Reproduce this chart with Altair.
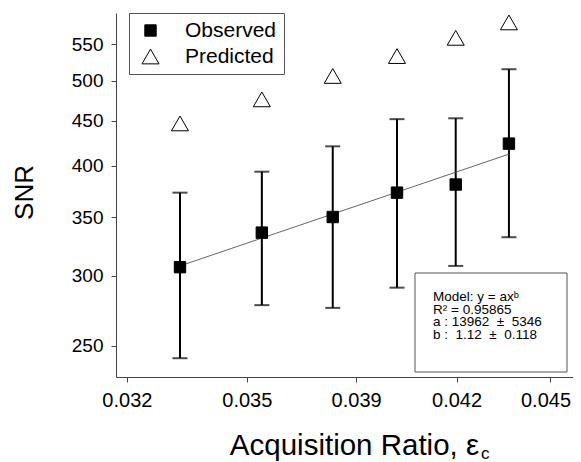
import altair as alt
import pandas as pd

# ---- data ----
x_vals = [0.03340, 0.03568, 0.03778, 0.03979, 0.04172, 0.04355]
snr_observed = [307, 336, 350, 373, 381, 424]
snr_upper = [373, 394, 421, 452, 453, 515]
snr_lower = [242, 278, 276, 291, 308, 332]
snr_predicted = [447, 476, 506, 533, 559, 582]

fit_x = [0.0334, 0.04355]
fit_y = [308, 412.5]

x_tick_values = [0.032, 0.03525, 0.0385, 0.04175, 0.045]
x_tick_labels = ["0.032", "0.035", "0.039", "0.042", "0.045"]
y_tick_values = [250, 300, 350, 400, 450, 500, 550]

series_names = ["Observed", "Predicted"]
NB = "\u00a0"
model_lines = ["Model: y = ax\u1d47", "R\u00b2 = 0.95865",
               f"a : 13962 {NB}\u00b1{NB} 5346", f"b :{NB} 1.12 {NB}\u00b1{NB} 0.118"]

FONT = "Liberation Sans"

pts = pd.DataFrame({
    "x": x_vals * 2,
    "snr": snr_observed + snr_predicted,
    "series": ["Observed"] * len(x_vals) + ["Predicted"] * len(x_vals),
})
err = pd.DataFrame({"x": x_vals, "lo": snr_lower, "hi": snr_upper})
fit = pd.DataFrame({"x": fit_x, "y": fit_y})

label_expr = " : ".join(
    f"abs(datum.value - {v}) < 1e-7 ? '{l}'" for v, l in zip(x_tick_values, x_tick_labels)
) + " : ''"

xscale = alt.Scale(type="log", domain=[0.03172, 0.04586], nice=False, zero=False)
yscale = alt.Scale(type="log", domain=[230.4, 596.5], nice=False, zero=False)

xaxis = alt.Axis(values=x_tick_values, labelExpr=label_expr, title="Acquisition Ratio, \u03b5",
                 titleFontSize=29.5, titleFont=FONT, titleFontWeight="normal",
                 titleX=238, titleY=77, titleBaseline="alphabetic", titleAlign="center",
                 labelFontSize=20, labelFont=FONT, labelPadding=8, tickSize=5,
                 labelOffset={"condition": {"test": f"datum.value > {x_tick_values[-2] + 0.002}",
                                            "value": -4}, "value": 0},
                 grid=False, labelColor="black", titleColor="black")
yaxis = alt.Axis(values=y_tick_values, format="d", title="SNR",
                 titleFontSize=26, titleFont=FONT, titleFontWeight="normal",
                 titleX=-84, titleY=179, titleAngle=270, titleBaseline="alphabetic",
                 titleAlign="center",
                 labelFontSize=19, labelFont=FONT, labelPadding=8, tickSize=5,
                 grid=False, labelColor="black", titleColor="black")

base_x = alt.X("x:Q", scale=xscale, axis=xaxis)

rules = alt.Chart(err).mark_rule(color="black", strokeWidth=2).encode(
    x=base_x,
    y=alt.Y("lo:Q", scale=yscale, axis=yaxis),
    y2="hi:Q",
)
cap_lo = alt.Chart(err).mark_tick(color="black", orient="horizontal", size=15, thickness=2).encode(
    x="x:Q", y="lo:Q")
cap_hi = alt.Chart(err).mark_tick(color="black", orient="horizontal", size=15, thickness=2).encode(
    x="x:Q", y="hi:Q")

fit_line = alt.Chart(fit).mark_line(color="#555555", strokeWidth=0.9).encode(
    x="x:Q", y="y:Q")

points = alt.Chart(pts).mark_point(strokeWidth=1, opacity=1, filled=False).encode(
    x="x:Q",
    y="snr:Q",
    shape=alt.Shape("series:N", scale=alt.Scale(domain=series_names, range=["square", "triangle-up"]),
                    legend=alt.Legend(title=None)),
    fill=alt.Fill("series:N", scale=alt.Scale(domain=series_names, range=["black", "white"]),
                  legend=alt.Legend(title=None)),
    stroke=alt.Stroke("series:N", scale=alt.Scale(domain=series_names, range=["black", "black"]),
                      legend=alt.Legend(title=None)),
    size=alt.Size("series:N", scale=alt.Scale(domain=series_names, range=[130, 290]),
                  legend=alt.Legend(title=None)),
)

box = alt.Chart(pd.DataFrame({"k": [0]})).mark_rect(fill="white", stroke="#555555", strokeWidth=1).encode(
    x=alt.value(299), x2=alt.value(451), y=alt.value(260), y2=alt.value(359))
box_text = alt.Chart(pd.DataFrame({"k": [0]})).mark_text(
    text=model_lines, align="left", baseline="top", fontSize=13.5, lineHeight=12.6,
    font=FONT, color="black").encode(x=alt.value(317), y=alt.value(277))

sub_c = alt.Chart(pd.DataFrame({"k": [0]})).mark_text(
    text="c", align="left", baseline="alphabetic", fontSize=17, font=FONT, color="black"
).encode(x=alt.value(365), y=alt.value(446))

chart = alt.layer(rules, cap_lo, cap_hi, fit_line, points, box, box_text, sub_c).properties(
    width=457, height=364,
    autosize=alt.AutoSizeParams(type="none"),
    padding={"left": 108, "top": 5, "right": 0, "bottom": 85},
).configure_view(stroke=None).configure_axis(
    domainColor="#444444", tickColor="#444444", domainWidth=1, tickWidth=1
).configure_legend(
    orient="none", legendX=13, legendY=0, strokeColor="#555555", fillColor="white",
    padding=7, symbolOffset=4, labelOffset=24, rowPadding=4,
    labelFontSize=21, labelFont=FONT, labelColor="black", symbolStrokeWidth=1,
)

chart.save("out.html", embed_options={"renderer": "svg", "actions": False})
